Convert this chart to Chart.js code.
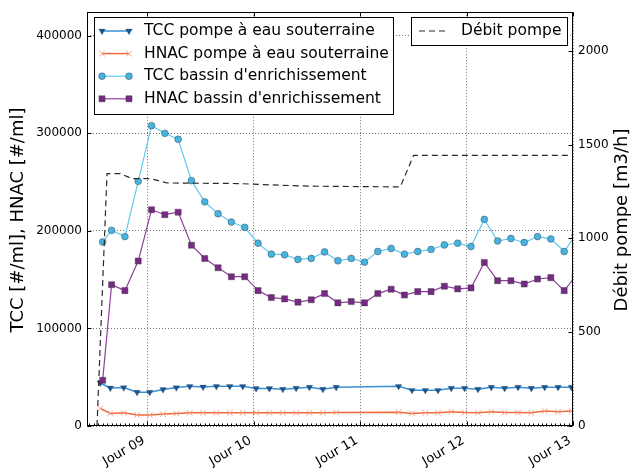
<!DOCTYPE html>
<html>
<head>
<meta charset="utf-8">
<script src="https://cdn.jsdelivr.net/npm/chart.js@4.4.1/dist/chart.umd.min.js"></script>
<style>
  html, body { margin: 0; padding: 0; background: #fff; }
</style>
</head>
<body>
<canvas id="graphe" width="634" height="468"></canvas>
<script>
// pompe a eau souterraine (jours)
var pompeJours = [8.561, 8.655, 8.781, 8.906, 9.025, 9.150, 9.275, 9.401, 9.526, 9.651, 9.777,
  9.899, 10.024, 10.149, 10.275, 10.400, 10.525, 10.651, 10.776,
  11.362, 11.488, 11.613, 11.732, 11.857, 11.982, 12.108, 12.233, 12.358, 12.484, 12.609,
  12.734, 12.860, 12.985];
var tccPompe = [44100, 39000, 39400, 34600, 34600, 37400, 39400, 40700, 40000, 40700, 40700,
  40700, 38400, 38400, 37700, 38700, 39700, 37700, 39700,
  40700, 36600, 36600, 36600, 38700, 38700, 37700, 39700, 38700, 39700, 38700,
  39700, 39700, 39700];
var hnacPompe = [18000, 12900, 13500, 11200, 11200, 12200, 12900, 13500, 13500, 13500, 13500,
  13500, 13500, 13500, 13500, 13500, 13500, 13500, 13800,
  14200, 12900, 13500, 13500, 14600, 13800, 13500, 14600, 13800, 13800, 13500,
  15300, 14600, 15300];

// bassin d'enrichissement (jours)
var bassinJours = [8.583, 8.667, 8.792, 8.917, 9.042, 9.167, 9.292, 9.417, 9.542, 9.667,
  9.792, 9.917, 10.042, 10.167, 10.292, 10.417, 10.542, 10.667, 10.792, 10.917,
  11.042, 11.167, 11.292, 11.417, 11.542, 11.667, 11.792, 11.917, 12.042, 12.167,
  12.292, 12.417, 12.542, 12.667, 12.792, 12.917, 13.02];
var tccBassin = [188600, 200500, 194100, 250700, 307700, 299900, 293800, 251400, 229700, 217500,
  209000, 203600, 187300, 176100, 175400, 170700, 171700, 178400, 169300, 171700,
  167900, 178800, 181900, 176100, 178800, 180900, 185500, 187300, 183900, 211700,
  189600, 192100, 188000, 194100, 191700, 178800, 195100];
var hnacBassin = [46800, 144800, 138700, 169000, 221600, 216500, 219100, 185200, 171700, 162100,
  153000, 153000, 138700, 131600, 130300, 126900, 129300, 135700, 126200, 127500,
  126200, 135700, 140200, 134200, 137700, 137700, 143200, 140500, 141500, 167600,
  148900, 148900, 145500, 150600, 152000, 138700, 153000];

// debit pompe [m3/h]
var debitJours = [8.530, 8.624, 8.749, 8.859, 9.031, 9.188, 9.846, 10.250, 10.532, 11.378, 11.503, 13.004];
var debitPompe = [0, 1345, 1345, 1318, 1318, 1295, 1292, 1283, 1278, 1274, 1442, 1442];

var joursTicks = [9, 10, 11, 12, 13];
var joursEtiquettes = ['Jour 09', 'Jour 10', 'Jour 11', 'Jour 12', 'Jour 13'];
var concTicks = [0, 100000, 200000, 300000, 400000];
var debitTicks = [0, 500, 1000, 1500, 2000];

function points(xs, ys) {
  return xs.map(function (x, i) { return { x: x, y: ys[i] }; });
}

Chart.defaults.font.family = 'DejaVu Sans';
Chart.defaults.font.size = 12;
Chart.defaults.color = '#000';

var datasets = [
  {
    label: 'TCC pompe à eau souterraine', data: points(pompeJours, tccPompe), yAxisID: 'y', order: 4,
    borderColor: '#3b8fd5', borderWidth: 1.5,
    pointStyle: 'triangle', pointRotation: 180, pointRadius: 3.8,
    pointBackgroundColor: '#145795', pointBorderColor: 'rgba(70,70,70,0.5)', pointBorderWidth: 0.5
  },
  {
    label: 'HNAC pompe à eau souterraine', data: points(pompeJours, hnacPompe), yAxisID: 'y', order: 3,
    borderColor: '#ee6a3c', borderWidth: 1.5,
    pointStyle: 'crossRot', pointRadius: 4,
    pointBackgroundColor: '#f5a283', pointBorderColor: '#f5a283', pointBorderWidth: 1
  },
  {
    label: "TCC bassin d'enrichissement", data: points(bassinJours, tccBassin), yAxisID: 'y', order: 2,
    borderColor: '#62c9ef', borderWidth: 1.2,
    pointStyle: 'circle', pointRadius: 3.4,
    pointBackgroundColor: '#46b4e2', pointBorderColor: 'rgba(60,60,60,0.55)', pointBorderWidth: 0.8
  },
  {
    label: "HNAC bassin d'enrichissement", data: points(bassinJours, hnacBassin), yAxisID: 'y', order: 1,
    borderColor: '#8e3f9c', borderWidth: 1.2,
    pointStyle: 'rect', pointRadius: 4.3,
    pointBackgroundColor: '#772a85', pointBorderColor: 'rgba(60,60,60,0.55)', pointBorderWidth: 0.8
  },
  {
    label: 'Débit pompe', data: points(debitJours, debitPompe), yAxisID: 'y1', order: 0,
    borderColor: '#2a2a2a', borderWidth: 1.2, borderDash: [6, 4],
    pointRadius: 0
  }
];

function echantillon(ctx, ds, x0, x1, y) {
  ctx.save();
  ctx.strokeStyle = ds.borderColor;
  ctx.lineWidth = ds.borderWidth;
  ctx.setLineDash(ds.borderDash || []);
  ctx.beginPath(); ctx.moveTo(x0, y); ctx.lineTo(x1, y); ctx.stroke();
  ctx.setLineDash([]);
  if (ds.pointRadius > 0) {
    [x0, x1].forEach(function (x) {
      ctx.fillStyle = ds.pointBackgroundColor;
      ctx.strokeStyle = ds.pointBorderColor;
      ctx.lineWidth = ds.pointBorderWidth;
      Chart.helpers.drawPoint(ctx, {
        pointStyle: ds.pointStyle, rotation: ds.pointRotation || 0,
        radius: ds.pointRadius, borderWidth: ds.pointBorderWidth
      }, x, y);
    });
  }
  ctx.restore();
}

// cadre, graduations vers l'interieur, legendes et titres des axes
var cadre = {
  id: 'cadre',
  afterDraw: function (chart) {
    var ctx = chart.ctx, a = chart.chartArea, sx = chart.scales.x, sy = chart.scales.y, sy1 = chart.scales.y1;
    var L = Math.round(a.left) + 0.5, R = Math.round(a.right) - 0.5;
    var T = Math.round(a.top) + 0.5, B = Math.round(a.bottom) - 0.5;
    ctx.save();
    ctx.strokeStyle = '#000';
    ctx.lineWidth = 1;
    ctx.strokeRect(L, T, R - L, B - T);

    ctx.beginPath();
    joursTicks.forEach(function (v) {
      var px = Math.round(sx.getPixelForValue(v)) + 0.5;
      ctx.moveTo(px, B); ctx.lineTo(px, B - 4);
      ctx.moveTo(px, T); ctx.lineTo(px, T + 4);
    });
    // graduations secondaires : une par heure en bas
    for (var h = Math.ceil(sx.min * 24); h <= Math.floor(sx.max * 24); h++) {
      var pm = Math.round(sx.getPixelForValue(h / 24)) + 0.5;
      ctx.moveTo(pm, B); ctx.lineTo(pm, B - 2);
    }
    concTicks.forEach(function (v) {
      var py = Math.round(sy.getPixelForValue(v)) + 0.5;
      ctx.moveTo(L, py); ctx.lineTo(L + 4, py);
    });
    debitTicks.forEach(function (v) {
      var py = Math.round(sy1.getPixelForValue(v)) + 0.5;
      ctx.moveTo(R, py); ctx.lineTo(R - 4, py);
    });
    ctx.stroke();

    // legende gauche
    ctx.fillStyle = '#fff';
    ctx.fillRect(94, 17, 299, 97);
    ctx.strokeRect(94.5, 17.5, 299, 97);
    ctx.font = '15.5px "DejaVu Sans"';
    ctx.textBaseline = 'middle';
    ctx.textAlign = 'left';
    [0, 1, 2, 3].forEach(function (i, k) {
      var y = 31 + k * 22.6;
      echantillon(ctx, datasets[i], 102, 129, y);
      ctx.fillStyle = '#000';
      ctx.fillText(datasets[i].label, 144, y);
    });

    // legende droite
    ctx.fillStyle = '#fff';
    ctx.fillRect(411, 17, 156, 28);
    ctx.strokeStyle = '#000';
    ctx.strokeRect(411.5, 17.5, 156, 28);
    echantillon(ctx, datasets[4], 419, 446, 31);
    ctx.fillStyle = '#000';
    ctx.fillText(datasets[4].label, 461, 31);

    // titres des axes
    ctx.font = '18px "DejaVu Sans"';
    ctx.textAlign = 'center';
    ctx.textBaseline = 'middle';
    ctx.save();
    ctx.translate(18, 220);
    ctx.rotate(-Math.PI / 2);
    ctx.fillText('TCC [#/ml], HNAC [#/ml]', 0, 0);
    ctx.restore();
    ctx.save();
    ctx.translate(622, 220);
    ctx.rotate(-Math.PI / 2);
    ctx.fillText('Débit pompe [m3/h]', 0, 0);
    ctx.restore();

    ctx.restore();
  }
};

var grille = { color: 'rgba(0,0,0,0.55)', lineWidth: 1, drawTicks: false, borderDash: [1, 2] };

new Chart(document.getElementById('graphe'), {
  type: 'line',
  data: { datasets: datasets },
  plugins: [cadre],
  options: {
    responsive: false,
    devicePixelRatio: 1,
    animation: false,
    layout: { padding: { top: 10, left: 0, right: 0, bottom: 0 } },
    plugins: { legend: { display: false }, tooltip: { enabled: false } },
    elements: { line: { tension: 0 } },
    scales: {
      x: {
        type: 'linear', min: 8.436, max: 13.0,
        afterFit: function (s) { s.height = 42; },
        afterBuildTicks: function (s) { s.ticks = joursTicks.map(function (v) { return { value: v }; }); },
        ticks: {
          autoSkip: false, minRotation: 30, maxRotation: 30, padding: 7, labelOffset: -3,
          font: { size: 13 },
          callback: function (v) { return joursEtiquettes[joursTicks.indexOf(v)]; }
        },
        grid: grille,
        border: { display: false, dash: [1, 2] }
      },
      y: {
        type: 'linear', position: 'left', min: 0, max: 424000,
        afterFit: function (s) { s.width = 87; },
        afterBuildTicks: function (s) { s.ticks = concTicks.map(function (v) { return { value: v }; }); },
        ticks: { padding: 5, callback: function (v) { return String(v); } },
        grid: grille,
        border: { display: false, dash: [1, 2] }
      },
      y1: {
        type: 'linear', position: 'right', min: 0, max: 2205,
        afterFit: function (s) { s.width = 61; },
        afterBuildTicks: function (s) { s.ticks = debitTicks.map(function (v) { return { value: v }; }); },
        ticks: { padding: 5, callback: function (v) { return String(v); } },
        grid: { drawOnChartArea: false, drawTicks: false },
        border: { display: false }
      }
    }
  }
});
</script>
</body>
</html>
